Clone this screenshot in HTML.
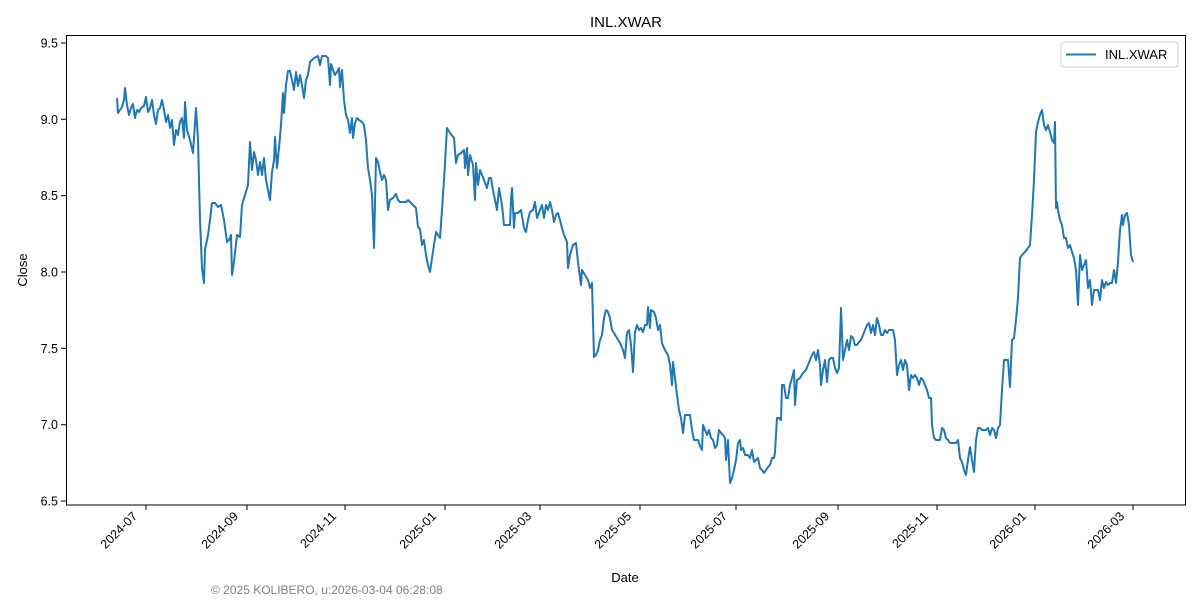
<!DOCTYPE html>
<html><head><meta charset="utf-8"><style>
html,body{margin:0;padding:0;background:#fff;}
svg{display:block;font-family:"Liberation Sans","DejaVu Sans",sans-serif;}
</style></head><body>
<svg width="1200" height="600" viewBox="0 0 1200 600" xmlns="http://www.w3.org/2000/svg">
<rect width="1200" height="600" fill="#fff"/>
<text x="626" y="27" font-size="15" text-anchor="middle" fill="#000">INL.XWAR</text>
<g font-size="12.5" fill="#000" text-anchor="end">
<line x1="61" x2="66" y1="43" y2="43" stroke="#000"/><text x="58" y="47.5">9.5</text>
<line x1="61" x2="66" y1="119.3" y2="119.3" stroke="#000"/><text x="58" y="123.8">9.0</text>
<line x1="61" x2="66" y1="195.7" y2="195.7" stroke="#000"/><text x="58" y="200.2">8.5</text>
<line x1="61" x2="66" y1="272" y2="272" stroke="#000"/><text x="58" y="276.5">8.0</text>
<line x1="61" x2="66" y1="348.3" y2="348.3" stroke="#000"/><text x="58" y="352.8">7.5</text>
<line x1="61" x2="66" y1="424.7" y2="424.7" stroke="#000"/><text x="58" y="429.2">7.0</text>
<line x1="61" x2="66" y1="501" y2="501" stroke="#000"/><text x="58" y="505.5">6.5</text>
</g>
<text transform="translate(27,270) rotate(-90)" font-size="13" text-anchor="middle">Close</text>
<g font-size="12.5" fill="#000" text-anchor="end" stroke="none">
<g transform="translate(146,505)"><line y1="0" y2="5" stroke="#000"/><text transform="translate(-8,12) rotate(-45)">2024-07</text></g>
<g transform="translate(247,505)"><line y1="0" y2="5" stroke="#000"/><text transform="translate(-8,12) rotate(-45)">2024-09</text></g>
<g transform="translate(345,505)"><line y1="0" y2="5" stroke="#000"/><text transform="translate(-8,12) rotate(-45)">2024-11</text></g>
<g transform="translate(445,505)"><line y1="0" y2="5" stroke="#000"/><text transform="translate(-8,12) rotate(-45)">2025-01</text></g>
<g transform="translate(540,505)"><line y1="0" y2="5" stroke="#000"/><text transform="translate(-8,12) rotate(-45)">2025-03</text></g>
<g transform="translate(640,505)"><line y1="0" y2="5" stroke="#000"/><text transform="translate(-8,12) rotate(-45)">2025-05</text></g>
<g transform="translate(736,505)"><line y1="0" y2="5" stroke="#000"/><text transform="translate(-8,12) rotate(-45)">2025-07</text></g>
<g transform="translate(838,505)"><line y1="0" y2="5" stroke="#000"/><text transform="translate(-8,12) rotate(-45)">2025-09</text></g>
<g transform="translate(937,505)"><line y1="0" y2="5" stroke="#000"/><text transform="translate(-8,12) rotate(-45)">2025-11</text></g>
<g transform="translate(1035,505)"><line y1="0" y2="5" stroke="#000"/><text transform="translate(-8,12) rotate(-45)">2026-01</text></g>
<g transform="translate(1133,505)"><line y1="0" y2="5" stroke="#000"/><text transform="translate(-8,12) rotate(-45)">2026-03</text></g>
</g>
<text x="625" y="582" font-size="13" text-anchor="middle">Date</text>
<text x="211" y="594" font-size="12" fill="#808080">© 2025 KOLIBERO, u:2026-03-04 06:28:08</text>
<polyline fill="none" stroke="#1f77b4" stroke-width="2" stroke-linejoin="round" points="117,98 118,113 122,107 124,100 125,88 127,105 129,115 131,108 133,104 135,118 137,110 139,112 141,108 144,106 146,97 148,112 150,108 152,100 154,115 156,124 158,110 160,108 162,100 164,110 166,122 168,115 170,128 172,120 174,145 176,130 178,135 180,122 182,118 184,138 185,102 187,130 190,140 193,153 196,108 198,140 200,220 202,268 204,283 205,250 208,235 210,220 212,203 215,203 218,207 221,205 224,220 227,242 229,240 231,235 232,275 234,262 237,235 240,237 242,205 245,195 248,185 250,142 252,170 254,152 256,160 258,175 260,162 262,175 264,158 266,180 268,190 270,200 272,172 274,160 275,137 277,168 279,148 281,125 283,93 284,113 286,85 288,71 290,71 292,80 294,90 296,72 298,86 300,75 302,85 304,98 306,80 308,75 310,62 314,58 318,56 320,65 322,56 326,56 328,58 330,85 331,64 333,70 335,75 337,72 339,68 340,87 342,70 344,100 346,115 348,120 350,133 352,118 353,138 355,123 357,118 359,120 362,122 364,125 366,140 368,168 370,180 372,195 374,248 376,158 378,162 380,172 382,180 384,175 386,180 388,210 390,200 393,198 396,194 398,200 400,202 403,202 406,202 408,200 410,202 413,205 416,208 418,227 420,229 422,245 424,240 426,255 428,265 430,272 432,258 434,245 436,232 438,235 440,238 442,210 444,180 446,145 447,128 450,133 454,138 456,163 458,155 461,153 464,150 465,168 467,148 468,175 470,155 473,165 475,200 476,163 478,185 480,170 484,180 487,188 489,178 491,178 493,190 495,200 497,210 499,188 502,205 504,225 508,225 510,225 511,200 512,188 514,228 515,213 518,213 521,210 524,228 526,232 528,220 530,212 533,210 535,202 537,218 540,210 542,205 544,218 546,205 548,210 550,202 552,210 554,222 556,215 558,213 560,220 562,228 564,235 567,242 568,268 570,255 573,245 576,243 578,262 581,285 582,270 585,275 588,280 590,288 592,283 594,357 596,355 598,350 600,340 602,335 604,318 606,310 608,312 610,318 612,330 614,333 617,338 620,343 623,350 625,358 627,333 629,330 631,345 633,372 635,332 637,325 639,330 641,328 643,332 645,325 647,325 648,307 650,328 651,310 654,312 656,318 658,330 660,325 662,343 664,348 666,352 668,355 670,365 672,385 673,362 675,378 677,395 679,410 681,418 683,433 685,415 688,415 690,415 692,430 694,440 696,440 698,440 700,446 702,450 703,425 705,430 707,435 709,430 711,438 713,440 715,448 717,445 719,430 721,433 723,435 725,438 726,460 728,440 730,483 732,478 734,470 736,460 738,443 740,440 741,450 743,448 745,455 748,455 750,458 752,450 754,462 756,460 758,458 760,468 762,470 764,473 766,470 768,467 770,465 772,458 774,458 775,452 777,418 779,418 781,420 782,385 784,385 786,398 788,398 790,385 792,378 794,370 795,405 797,380 800,378 803,373 806,370 808,365 810,360 812,355 814,352 816,360 818,350 820,365 821,385 823,370 825,360 827,382 829,360 831,358 833,358 835,368 837,373 839,368 841,308 843,360 845,350 847,340 849,350 851,336 853,338 855,345 857,345 859,342 861,340 863,335 865,330 867,325 869,323 871,333 873,325 875,335 877,318 879,325 881,335 883,335 885,330 887,333 889,330 891,330 893,330 895,340 897,375 899,365 901,360 903,370 905,360 907,365 909,390 911,375 913,378 915,375 917,378 919,385 921,378 923,380 925,385 927,390 929,398 931,398 932,425 934,438 936,440 938,440 940,440 942,428 944,430 946,438 948,440 950,443 952,443 954,443 956,443 958,440 960,458 962,462 964,470 966,475 968,460 970,447 972,460 974,472 976,440 978,428 980,428 982,430 984,430 986,430 988,428 990,435 992,428 994,430 996,438 998,428 1000,425 1002,390 1004,360 1006,360 1008,360 1010,387 1012,340 1014,338 1016,320 1018,298 1020,258 1022,255 1025,252 1028,248 1030,245 1032,215 1034,180 1036,132 1038,122 1040,115 1042,110 1044,125 1046,130 1048,125 1050,132 1052,140 1054,143 1055,122 1056,208 1057,202 1058,210 1060,220 1062,225 1064,238 1066,238 1068,248 1070,245 1072,252 1074,258 1076,270 1078,305 1080,255 1082,270 1084,265 1086,260 1088,288 1090,280 1092,305 1094,290 1096,290 1098,290 1100,300 1102,280 1104,288 1106,282 1108,285 1110,283 1112,283 1114,270 1116,283 1118,262 1120,230 1122,215 1123,225 1125,215 1127,213 1129,225 1131,255 1133,262"/>
<rect x="66.5" y="35.5" width="1119" height="469.5" fill="none" stroke="#000" stroke-width="1"/>
<rect x="1061" y="42" width="117" height="25" rx="3" fill="#fff" stroke="#ccc"/>
<line x1="1066" x2="1096" y1="54.5" y2="54.5" stroke="#1f77b4" stroke-width="2"/>
<text x="1105" y="59" font-size="13">INL.XWAR</text>
</svg>
</body></html>
